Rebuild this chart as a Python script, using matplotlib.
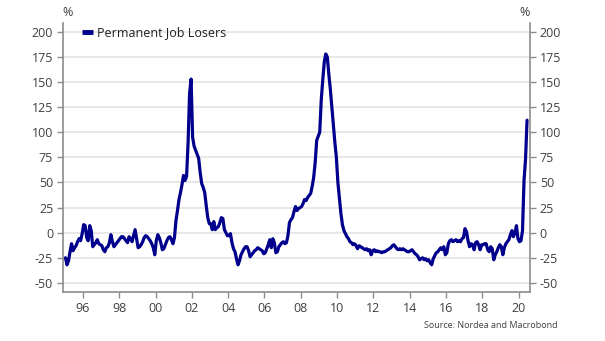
import matplotlib
matplotlib.use("Agg")
import matplotlib.pyplot as plt
import numpy as np

# Permanent job losers, y/y % change, monthly from Jan 1995
start_year = 1995
values_1995 = [-25, -32, -28, -19, -11, -18, -15, -13, -9, -6, -8, -1]
values_1996 = [8, 7, -5, -8, 7, 2, -14, -12, -10, -7, -11, -12]
values_1997 = [-13, -17, -19, -15, -14, -10, -2, -9, -14, -12, -10, -8]
values_1998 = [-6, -4, -4, -6, -8, -10, -4, -6, -9, -3, 3, -6]
values_1999 = [-15, -14, -12, -9, -5, -3, -4, -6, -8, -11, -15, -22]
values_2000 = [-8, -2, -5, -10, -17, -16, -12, -8, -5, -4, -7, -11]
values_2001 = [-5, 12, 22, 33, 40, 48, 57, 52, 56, 89, 139, 153]
values_2002 = [95, 86, 82, 78, 74, 60, 49, 45, 40, 27, 15, 9]
values_2003 = [9, 3, 11, 3, 5, 6, 10, 15, 14, 3, 0, -3]
values_2004 = [-3, -1, -10, -16, -19, -26, -32, -28, -22, -19, -16, -14]
values_2005 = [-14, -18, -24, -22, -20, -18, -17, -15, -16, -17, -18, -21]
values_2006 = [-20, -16, -12, -7, -15, -6, -10, -20, -19, -14, -12, -10]
values_2007 = [-9, -11, -10, -3, 10, 13, 15, 21, 26, 22, 24, 25]
values_2008 = [26, 29, 33, 32, 35, 37, 39, 46, 55, 70, 92, 96]
values_2009 = [100, 132, 152, 170, 178, 175, 158, 143, 125, 108, 90, 75]
values_2010 = [50, 35, 19, 8, 2, -1, -4, -6, -9, -10, -12, -11]
values_2011 = [-13, -16, -13, -14, -15, -16, -17, -16, -18, -17, -22, -18]
values_2012 = [-17, -19, -18, -19, -19, -20, -19, -19, -18, -17, -16, -15]
values_2013 = [-13, -12, -14, -16, -17, -16, -17, -16, -17, -18, -19, -19]
values_2014 = [-18, -17, -19, -21, -22, -24, -27, -26, -25, -27, -26, -28]
values_2015 = [-27, -30, -32, -26, -23, -20, -19, -17, -15, -17, -14, -22]
values_2016 = [-20, -11, -8, -7, -9, -8, -7, -9, -8, -9, -6, -5]
values_2017 = [4, 1, -8, -14, -11, -12, -17, -10, -9, -12, -17, -12]
values_2018 = [-12, -11, -11, -17, -19, -14, -16, -27, -22, -19, -15, -12]
values_2019 = [-14, -22, -15, -11, -9, -7, -2, 2, -4, 0, 7, -6]
values_2020 = [-9, -8, 2, 52, 73, 112]

series = (values_1995 + values_1996 + values_1997 + values_1998 + values_1999
          + values_2000 + values_2001 + values_2002 + values_2003 + values_2004
          + values_2005 + values_2006 + values_2007 + values_2008 + values_2009
          + values_2010 + values_2011 + values_2012 + values_2013 + values_2014
          + values_2015 + values_2016 + values_2017 + values_2018 + values_2019
          + values_2020)

series_label = "Permanent Job Losers"
y_ticks = [-50, -25, 0, 25, 50, 75, 100, 125, 150, 175, 200]
x_tick_years = list(range(1996, 2021, 2))
x_tick_labels = [f"{y % 100:02d}" for y in x_tick_years]
source_text = "Source: Nordea and Macrobond"

plt.rcParams["font.family"] = ["Open Sans", "DejaVu Sans"]

t = start_year + (np.arange(len(series)) + 0.5) / 12.0

fig = plt.figure(figsize=(6.05, 3.41), dpi=100)
ax = fig.add_axes([0.104, 0.144, 0.772, 0.789])

line_color = "#00008C"
grid_color = "#e6e6e6"
axis_color = "#8c8c8c"
text_color = "#404040"

for yv in y_ticks:
    ax.axhline(yv, color=grid_color, lw=1.3, zorder=0)

ax.plot(t, series, color=line_color, lw=2.3, solid_joinstyle="round",
        solid_capstyle="round", label=series_label, zorder=3)

ax.set_xlim(1994.9, 2020.62)
ax.set_ylim(-59, 209)

ax.set_yticks(y_ticks)
ax.set_yticklabels([str(v) for v in y_ticks])
ax.set_xticks(x_tick_years)
ax.set_xticklabels(x_tick_labels)

ax.tick_params(axis="y", which="both", direction="out", length=4, width=1,
               color=axis_color, labelcolor=text_color, labelsize=9,
               left=True, right=True, labelleft=True, labelright=True, pad=3)
ax.tick_params(axis="x", direction="out", length=4, width=1,
               color=axis_color, labelcolor=text_color, labelsize=9, pad=3)

for side in ("left", "right", "bottom"):
    ax.spines[side].set_color(axis_color)
    ax.spines[side].set_linewidth(1.2)
ax.spines["top"].set_visible(False)

fig.text(68 / 605, 1 - 13 / 341, "%", ha="center", va="center",
         fontsize=9, color=text_color)
fig.text(525 / 605, 1 - 13 / 341, "%", ha="center", va="center",
         fontsize=9, color=text_color)

leg = ax.legend(loc="upper left", bbox_to_anchor=(0.03, 1.005), frameon=False,
                handlelength=0.9, handletextpad=0.3, borderaxespad=0,
                fontsize=9)
for h in leg.get_lines():
    h.set_linewidth(3.5)
    h.set_solid_capstyle("butt")
for txt in leg.get_texts():
    txt.set_color("#202020")

fig.text(558 / 605, 1 - 326 / 341, source_text, ha="right", va="center",
         fontsize=6.5, color=text_color)

fig.savefig("out.png", dpi=100)
